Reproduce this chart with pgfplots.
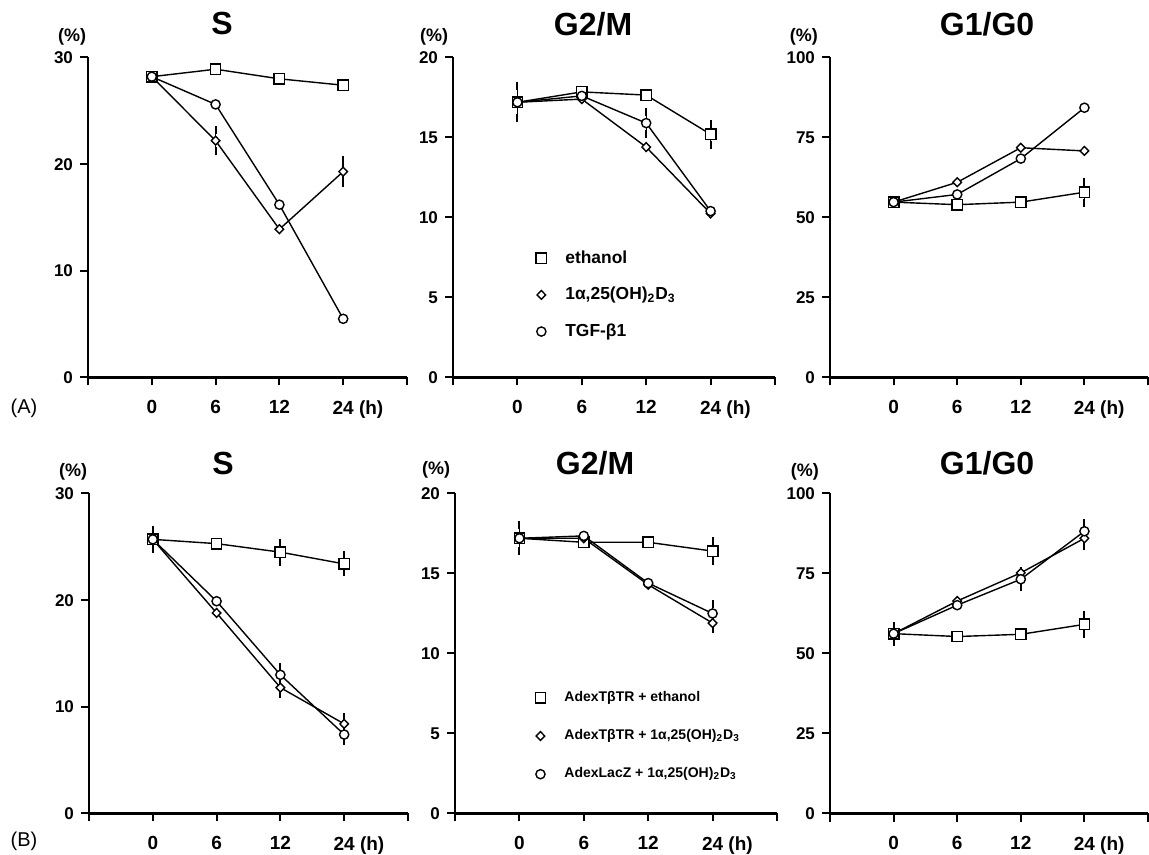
\documentclass[border=0pt]{standalone}
\usepackage{fontspec}
\setmainfont{Liberation Sans}
\usepackage{pgfplots}
\pgfplotsset{compat=1.18}
\newcommand\ttl{\fontsize{16}{17}\selectfont\bfseries}
\newcommand\pct{\fontsize{9}{10}\selectfont\bfseries}
\newcommand\dd{1α,25(OH)\textsubscript{2}D\textsubscript{3}}
\pgfplotsset{
  panel/.style={
    scale only axis, height=160pt, anchor=south west,
    axis x line=bottom, axis y line=left,
    axis line style={-, line width=1.1pt},
    xmin=-1, xmax=4, ymin=0, clip=false,
    xtick={-1,0,1,2,3,4},
    xticklabels={,0,6,12,24\rlap{ (h)},},
    tick align=outside, major tick length=4pt,
    every tick/.style={black, line width=1pt},
    xticklabel style={font=\fontsize{9.5}{10}\selectfont\bfseries, yshift=-4pt},
    yticklabel style={font=\fontsize{8.5}{9}\selectfont\bfseries},
    /pgf/number format/assume math mode=true,
    title style={font=\ttl, anchor=center},
    every axis plot/.append style={black, line width=0.7pt,
      mark options={fill=white, solid, line width=0.7pt}},
    legend image code/.code={\draw[##1] plot coordinates {(0pt,0pt)};},
    legend cell align=left,
  },
  sq/.style={mark=square*, mark size=2.6pt},
  di/.style={mark=diamond*, mark size=2.2pt,
    mark options={fill=white, solid, line width=0.7pt, xscale=1.3}},
  ci/.style={mark=*, mark size=2.3pt},
  eb/.style={draw=none, mark=none, forget plot,
    error bars/.cd, y dir=both, y explicit,
    error bar style={draw=black, solid, line width=0.7pt},
    error mark options={draw=black, mark size=2pt, line width=1pt}},
}
\begin{document}
\begin{tikzpicture}
\useasboundingbox (0pt,0pt) rectangle (574.5pt,427.5pt);

% ---------- row A ----------
\begin{axis}[panel, at={(44pt,238.75pt)}, width=159.5pt, ymax=30, ytick={0,10,20,30},
  title={S}, title style={at={(rel axis cs:0.42,1.068)}}]
\node[font=\pct] at (rel axis cs:-0.05,1.065) {(\%)};
\addplot[eb] coordinates {(1,22.2) +- (0,1.0) (3,19.3) +- (0,1.1)};
\addplot[sq] coordinates {(0,28.2) (1,28.9) (2,28.0) (3,27.4)};
\addplot[di] coordinates {(0,28.2) (1,22.2) (2,13.9) (3,19.3)};
\addplot[ci] coordinates {(0,28.2) (1,25.6) (2,16.2) (3,5.5)};
\end{axis}

\begin{axis}[panel, at={(226.5pt,238.75pt)}, width=161pt, ymax=20, ytick={0,5,10,15,20},
  title={G2/M}, title style={at={(rel axis cs:0.435,1.068)}},
  legend style={draw=none, fill=none, inner sep=0pt, at={(rel axis cs:0.257,0.398)},
    anchor=north west, row sep=10.5pt, column sep=9.4pt,
    nodes={inner sep=0pt}, font=\fontsize{8.7}{9}\selectfont\bfseries}]
\node[font=\pct] at (rel axis cs:-0.059,1.065) {(\%)};
\addplot[eb] coordinates {(0,17.2) +- (0,1.0) (3,15.2) +- (0,0.65) (2,15.9) +- (0,0.7)};
\addplot[sq] coordinates {(0,17.2) (1,17.85) (2,17.65) (3,15.2)};
\addlegendentry{ethanol}
\addplot[di] coordinates {(0,17.2) (1,17.4) (2,14.4) (3,10.25)};
\addlegendentry{\dd}
\addplot[ci] coordinates {(0,17.2) (1,17.6) (2,15.9) (3,10.4)};
\addlegendentry{TGF-β1}
\end{axis}

\begin{axis}[panel, at={(415pt,238.75pt)}, width=159pt, ymax=100, ytick={0,25,50,75,100},
  title={G1/G0}, title style={at={(rel axis cs:0.494,1.068)}}]
\node[font=\pct] at (rel axis cs:-0.082,1.065) {(\%)};
\addplot[eb] coordinates {(3,57.9) +- (0,3.3)};
\addplot[sq] coordinates {(0,54.8) (1,54.0) (2,54.8) (3,57.9)};
\addplot[di] coordinates {(0,54.8) (1,61.0) (2,71.8) (3,70.8)};
\addplot[ci] coordinates {(0,54.8) (1,57.2) (2,68.4) (3,84.3)};
\end{axis}

% ---------- row B ----------
\begin{axis}[panel, at={(44.5pt,20.75pt)}, width=159.5pt, ymax=30, ytick={0,10,20,30},
  title={S}, title style={at={(rel axis cs:0.42,1.057)}}]
\node[font=\pct] at (rel axis cs:-0.05,1.067) {(\%)};
\addplot[eb] coordinates {(0,25.7) +- (0,0.9) (2,24.5) +- (0,0.9) (3,23.4) +- (0,0.8)
  (2,13.0) +- (0,0.7) (3,7.4) +- (0,0.6) (2,11.8) +- (0,0.6) (3,8.4) +- (0,0.6)};
\addplot[sq] coordinates {(0,25.7) (1,25.3) (2,24.5) (3,23.4)};
\addplot[di] coordinates {(0,25.7) (1,18.8) (2,11.8) (3,8.4)};
\addplot[ci] coordinates {(0,25.7) (1,19.9) (2,13.0) (3,7.4)};
\end{axis}

\begin{axis}[panel, at={(227.5pt,20.75pt)}, width=161pt, ymax=20, ytick={0,5,10,15,20},
  title={G2/M}, title style={at={(rel axis cs:0.435,1.057)}},
  legend style={draw=none, fill=none, inner sep=0pt, at={(rel axis cs:0.248,0.383)},
    anchor=north west, row sep=12.5pt, column sep=9.4pt,
    nodes={inner sep=0pt}, font=\fontsize{7}{8}\selectfont\bfseries}]
\node[font=\pct] at (rel axis cs:-0.059,1.075) {(\%)};
\addplot[eb] coordinates {(0,17.2) +- (0,0.8) (3,16.4) +- (0,0.6) (3,12.5) +- (0,0.6) (3,11.9) +- (0,0.4)};
\addplot[sq] coordinates {(0,17.2) (1,16.95) (2,16.95) (3,16.4)};
\addlegendentry{AdexTβTR + ethanol}
\addplot[di] coordinates {(0,17.2) (1,17.2) (2,14.3) (3,11.9)};
\addlegendentry{AdexTβTR + \dd}
\addplot[ci] coordinates {(0,17.2) (1,17.35) (2,14.4) (3,12.5)};
\addlegendentry{AdexLacZ + \dd}
\end{axis}

\begin{axis}[panel, at={(415pt,20.75pt)}, width=159pt, ymax=100, ytick={0,25,50,75,100},
  title={G1/G0}, title style={at={(rel axis cs:0.494,1.057)}}]
\node[font=\pct] at (rel axis cs:-0.079,1.067) {(\%)};
\addplot[eb] coordinates {(0,56.2) +- (0,2.5) (3,59.1) +- (0,3.0) (2,73.2) +- (0,2.5)
  (3,88.2) +- (0,2.5) (3,86.0) +- (0,2.5)};
\addplot[sq] coordinates {(0,56.2) (1,55.3) (2,56.0) (3,59.1)};
\addplot[di] coordinates {(0,56.2) (1,66.4) (2,75.2) (3,86.0)};
\addplot[ci] coordinates {(0,56.2) (1,65.1) (2,73.2) (3,88.2)};
\end{axis}

\node[font=\fontsize{10}{11}\selectfont] at (12pt,223.5pt) {(A)};
\node[font=\fontsize{10}{11}\selectfont] at (12pt,7pt) {(B)};
\end{tikzpicture}
\end{document}
